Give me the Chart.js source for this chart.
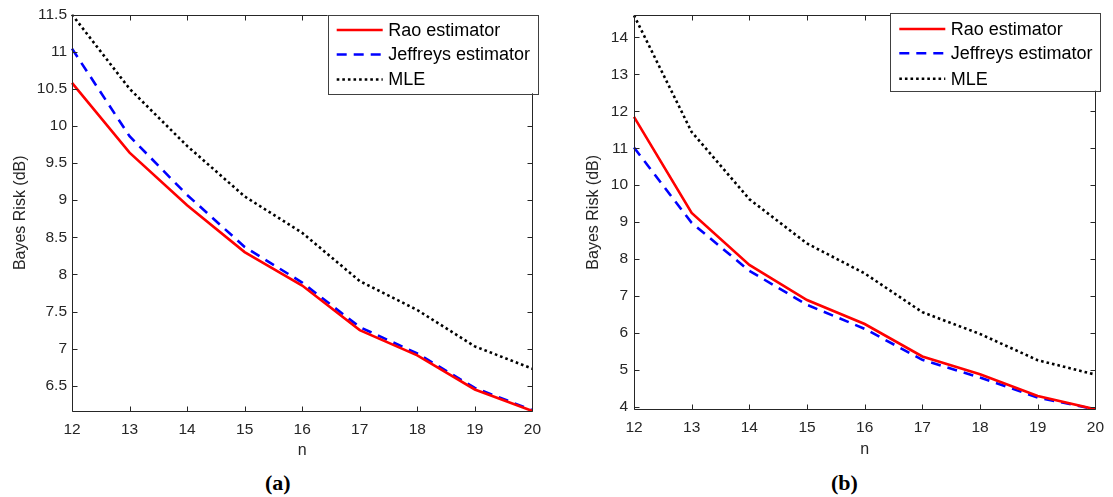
<!DOCTYPE html>
<html>
<head>
<meta charset="utf-8">
<title>Bayes Risk vs n</title>
<script src="https://cdn.jsdelivr.net/npm/chart.js"></script>
<style>
body { margin: 0; background: #fff; width: 1113px; height: 497px; position: relative; overflow: hidden; }
canvas { position: absolute; top: 0; }
#chartA { left: 0; }
#chartB { left: 560px; }
.sub { position: absolute; top: 470px; line-height: 26px; font: bold 22px "Liberation Serif", "DejaVu Serif", serif; color: #000; }
</style>
</head>
<body>
<canvas id="chartA" width="550" height="460"></canvas>
<canvas id="chartB" width="553" height="460"></canvas>
<div class="sub" style="left:265px">(<span>a</span>)</div>
<div class="sub" style="left:831px">(<span>b</span>)</div>

<script>
// Data
const nValues = [12, 13, 14, 15, 16, 17, 18, 19, 20];

// (a)
const raoA      = [10.58, 9.64, 8.93, 8.30, 7.85, 7.25, 6.91, 6.45, 6.16];
const jeffreysA = [11.04, 9.86, 9.07, 8.37, 7.89, 7.29, 6.935, 6.47, 6.17];
const mleA      = [11.50, 10.50, 9.73, 9.05, 8.56, 7.91, 7.52, 7.03, 6.73];
const yTicksA   = [6.5, 7, 7.5, 8, 8.5, 9, 9.5, 10, 10.5, 11, 11.5];
const yRangeA   = [6.16, 11.5];

// (b)
const raoB      = [11.85, 9.25, 7.84, 6.89, 6.24, 5.36, 4.88, 4.29, 3.93];
const jeffreysB = [11.02, 8.98, 7.68, 6.76, 6.11, 5.27, 4.79, 4.25, 3.93];
const mleB      = [14.60, 11.44, 9.62, 8.42, 7.61, 6.56, 5.97, 5.26, 4.87];
const yTicksB   = [4, 5, 6, 7, 8, 9, 10, 11, 12, 13, 14];
const yRangeB   = [3.93, 14.6];

const seriesNames = ['Rao estimator', 'Jeffreys estimator', 'MLE'];

const FONT = '"Liberation Sans", Arial, Helvetica, sans-serif';
const AXIS = '#262626';

// MATLAB look: box, inward ticks on all sides, boxed legend
const matlabAxes = {
	id: 'matlabAxes',
	afterDraw(chart, args, opts) {
		const ctx = chart.ctx;
		const a = chart.chartArea;
		const xs = chart.scales.x, ys = chart.scales.y;
		const L = Math.round(a.left) + 0.5, R = Math.round(a.right) + 0.5;
		const T = Math.round(a.top) + 0.5, B = Math.round(a.bottom) + 0.5;
		const tl = 5;
		ctx.save();
		ctx.strokeStyle = AXIS;
		ctx.lineWidth = 1;
		ctx.setLineDash([]);
		ctx.beginPath();
		ctx.rect(L, T, R - L, B - T);
		xs.ticks.forEach((t, i) => {
			const px = Math.round(xs.getPixelForTick(i)) + 0.5;
			ctx.moveTo(px, B); ctx.lineTo(px, B - tl);
			ctx.moveTo(px, T); ctx.lineTo(px, T + tl);
		});
		ys.ticks.forEach(t => {
			const py = Math.round(ys.getPixelForValue(t.value)) + 0.5;
			ctx.moveTo(L, py); ctx.lineTo(L + tl, py);
			ctx.moveTo(R, py); ctx.lineTo(R - tl, py);
		});
		ctx.stroke();

		// legend
		const bx = opts.box;
		ctx.fillStyle = '#fff';
		ctx.fillRect(bx.left, bx.top, bx.width, bx.height);
		ctx.strokeStyle = '#404040';
		ctx.strokeRect(Math.round(bx.left) + 0.5, Math.round(bx.top) + 0.5, Math.round(bx.width), Math.round(bx.height));
		ctx.font = '18px ' + FONT;
		ctx.textBaseline = 'middle';
		ctx.textAlign = 'left';
		chart.data.datasets.forEach((ds, i) => {
			const y = bx.top + bx.rows[i];
			ctx.beginPath();
			ctx.strokeStyle = ds.borderColor;
			ctx.lineWidth = ds.borderWidth;
			ctx.lineCap = 'butt';
			ctx.setLineDash(ds.borderDash || []);
			ctx.moveTo(bx.left + bx.sampleX, y);
			ctx.lineTo(bx.left + bx.sampleX + bx.sampleLen, y);
			ctx.stroke();
			ctx.fillStyle = '#000';
			ctx.fillText(ds.label, bx.left + bx.textX, y + 1);
		});
		ctx.restore();
	}
};

function makeDatasets(rao, jef, mle) {
	return [
		{ label: seriesNames[0], data: rao, borderColor: '#ff0000', borderWidth: 2.6, borderDash: [] },
		{ label: seriesNames[1], data: jef, borderColor: '#0000ff', borderWidth: 2.6, borderDash: [10, 7] },
		{ label: seriesNames[2], data: mle, borderColor: '#000000', borderWidth: 2.6, borderDash: [2.6, 3] }
	];
}

function makeChart(id, datasets, yRange, yTicks, lay) {
	return new Chart(document.getElementById(id), {
		type: 'line',
		data: { labels: nValues, datasets: datasets },
		options: {
			responsive: false,
			animation: false,
			layout: { padding: { top: lay.top, right: lay.right, left: 0, bottom: 0 } },
			elements: {
				point: { radius: 0 },
				line: { tension: 0, fill: false, borderCapStyle: 'butt', borderJoinStyle: 'miter' }
			},
			plugins: {
				legend: { display: false },
				tooltip: { enabled: false },
				matlabAxes: { box: lay.box }
			},
			scales: {
				x: {
					type: 'category',
					offset: false,
					grid: { display: false, drawTicks: false },
					border: { display: false },
					ticks: { color: AXIS, font: { family: FONT, size: 15.5 }, padding: 9, maxRotation: 0, autoSkip: false },
					title: { display: true, text: 'n', color: AXIS, font: { family: FONT, size: 16 }, padding: { top: 0, bottom: lay.xTitlePad } },
					afterFit(s) { s.height = lay.xHeight; }
				},
				y: {
					type: 'linear',
					min: yRange[0],
					max: yRange[1],
					grid: { display: false, drawTicks: false },
					border: { display: false },
					afterBuildTicks(s) { s.ticks = yTicks.map(v => ({ value: v })); },
					ticks: { color: AXIS, font: { family: FONT, size: 15.5 }, padding: lay.yTickPad, callback: v => String(v) },
					title: { display: true, text: 'Bayes Risk (dB)', color: AXIS, font: { family: FONT, size: 16 }, padding: { top: lay.yTitlePad, bottom: 0 } },
					afterFit(s) { s.width = lay.yWidth; }
				}
			}
		},
		plugins: [matlabAxes]
	});
}

makeChart('chartA', makeDatasets(raoA, jeffreysA, mleA), yRangeA, yTicksA, {
	top: 14.5, right: 12.7, yWidth: 72, xHeight: 49,
	yTickPad: 5, yTitlePad: 11, xTitlePad: 0,
	box: { left: 327.7, top: 14.5, width: 209.6, height: 78.8, rows: [15.5, 40, 65], sampleX: 9, sampleLen: 46, textX: 60.6 }
});

makeChart('chartB', makeDatasets(raoB, jeffreysB, mleB), yRangeB, yTicksB, {
	top: 12.7, right: 12.3, yWidth: 74, xHeight: 50.7,
	yTickPad: 6, yTitlePad: 23.5, xTitlePad: 1,
	box: { left: 330.3, top: 12.7, width: 210.4, height: 78, rows: [16.3, 40.5, 66], sampleX: 9, sampleLen: 46, textX: 60.4 }
});
</script>
</body>
</html>
